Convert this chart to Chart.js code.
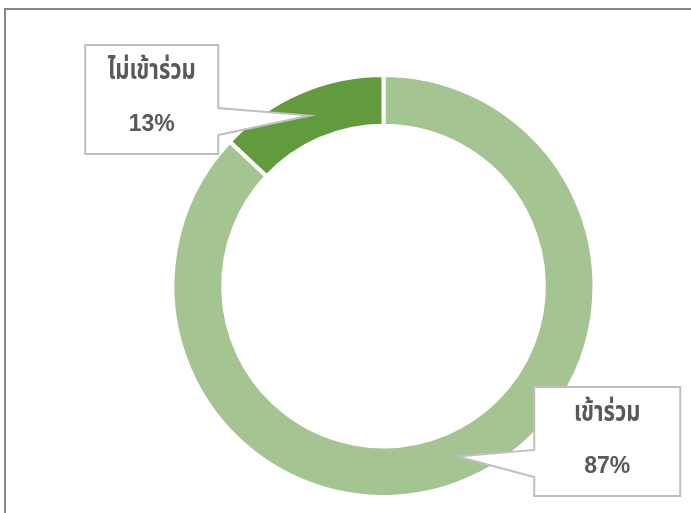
<!DOCTYPE html>
<html>
<head>
<meta charset="utf-8">
<script src="https://cdn.jsdelivr.net/npm/chart.js@4/dist/chart.umd.min.js"></script>
<style>
  html, body { margin: 0; padding: 0; background: #fff; overflow: hidden; }
  .frame { position: absolute; left: 4px; top: 8px; width: 800px; height: 600px; border: 2px solid #878787; }
  .wrap { position: absolute; left: 0; top: 0; width: 691px; height: 513px; }
</style>
</head>
<body>
<div class="frame"></div>
<div class="wrap"><canvas id="donut" width="691" height="513"></canvas></div>
<script>
const labels = ['เข้าร่วม', 'ไม่เข้าร่วม'];
const values = [87, 13];
const colors = ['#A4C591', '#629A3E'];
// where each callout box sits, relative to the point it points at
const boxOffsets = [[150, -15], [-158, -16]];

const THAI_FONT = '"Noto Sans Thai", "Noto Sans", "DejaVu Sans", sans-serif';

const calloutPlugin = {
  id: 'callouts',
  afterDatasetsDraw(chart) {
    const ctx = chart.ctx;
    const meta = chart.getDatasetMeta(0);
    meta.data.forEach((arc, i) => {
      const tip = arc.tooltipPosition();
      const w = i === 0 ? 146 : 133;
      const h = 109;
      const cx = tip.x + boxOffsets[i][0];
      const cy = tip.y + boxOffsets[i][1];
      const left = cx - w / 2, top = cy - h / 2;
      const right = left + w, bottom = top + h;
      const pointerLeft = tip.x < left;
      const py1 = top + 63;
      const py2 = py1 + 27;

      ctx.save();
      ctx.beginPath();
      ctx.moveTo(left, top);
      ctx.lineTo(right, top);
      if (!pointerLeft) {
        ctx.lineTo(right, py1);
        ctx.lineTo(tip.x, tip.y);
        ctx.lineTo(right, py2);
      }
      ctx.lineTo(right, bottom);
      ctx.lineTo(left, bottom);
      if (pointerLeft) {
        ctx.lineTo(left, py2);
        ctx.lineTo(tip.x, tip.y);
        ctx.lineTo(left, py1);
      }
      ctx.closePath();
      ctx.fillStyle = '#fff';
      ctx.fill();
      ctx.lineWidth = 2;
      ctx.strokeStyle = '#BFBFBF';
      ctx.stroke();

      ctx.fillStyle = '#595959';
      ctx.textAlign = 'center';
      ctx.textBaseline = 'middle';
      // thai label: the original face is tall and narrow
      ctx.save();
      ctx.translate(cx, top + 28);
      ctx.scale(1, 1.3);
      ctx.font = 'bold 22px ' + THAI_FONT;
      ctx.fillText(labels[i], 0, 0);
      ctx.restore();
      ctx.font = 'bold 23px "Liberation Sans"';
      ctx.fillText(values[i] + '%', cx, top + 80);
      ctx.restore();
    });
  }
};

new Chart(document.getElementById('donut'), {
  type: 'doughnut',
  data: {
    labels: labels,
    datasets: [{
      data: values,
      backgroundColor: colors,
      borderColor: '#fff',
      borderWidth: 4,
      hoverOffset: 0
    }]
  },
  options: {
    responsive: false,
    animation: false,
    cutout: '76%',
    layout: {
      padding: { top: 73, bottom: 14, left: 170.5, right: 94.5 }
    },
    plugins: {
      legend: { display: false },
      tooltip: { enabled: false }
    }
  },
  plugins: [calloutPlugin]
});
</script>
</body>
</html>
